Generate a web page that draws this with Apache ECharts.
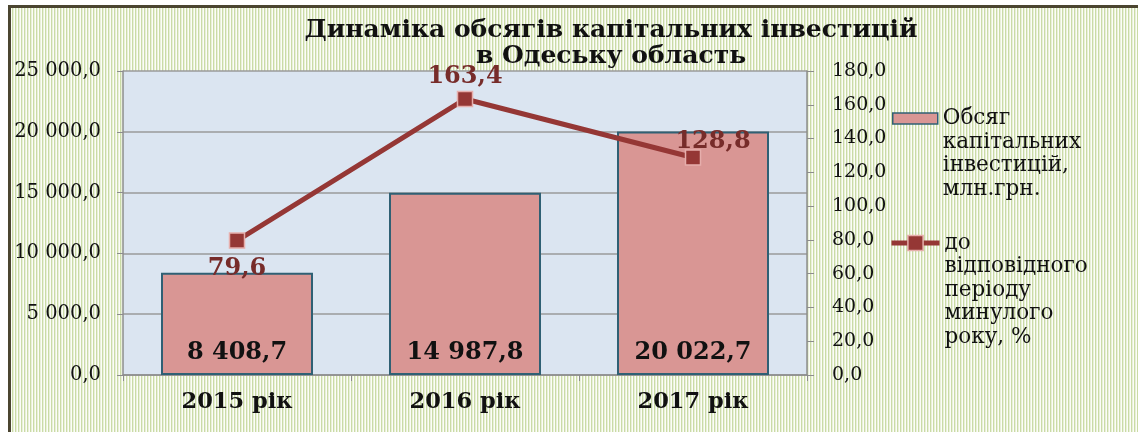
<!DOCTYPE html>
<html>
<head>
<meta charset="utf-8">
<title>Динаміка обсягів капітальних інвестицій</title>
<script src="https://cdn.jsdelivr.net/npm/echarts@6/dist/echarts.min.js"></script>
<style>
  html, body { margin: 0; padding: 0; background: #fff; }
  #chart { width: 1138px; height: 432px; }
</style>
</head>
<body>
<div id="chart"></div>
<script>
// дані
var years = ['2015 рік', '2016 рік', '2017 рік'];
var investVolume = [8408.7, 14987.8, 20022.7];   // млн.грн.
var growthPct = [79.6, 163.4, 128.8];             // % до попереднього року
var barName = 'Обсяг капітальних інвестицій, млн.грн.';
var lineName = 'до відповідного періоду минулого року, %';
var legendLines = {};
legendLines[barName] = ['Обсяг', 'капітальних', 'інвестицій,', 'млн.грн.'];
legendLines[lineName] = ['до', 'відповідного', 'періоду', 'минулого', 'року, %'];

var LH = 23.5;
var serif = 'DejaVu Serif';

// 12 345,6
function fmt(v) {
    var s = v.toFixed(1).split('.');
    return s[0].replace(/\B(?=(\d{3})+(?!\d))/g, ' ') + ',' + s[1];
}

// перший рядок підпису легенди — навпроти значка: порожні рядки зверху
function legendFmt(n) {
    var l = legendLines[n];
    return new Array(l.length).join('\n') + l.join('\n');
}

// смугастий фон
var pat = document.createElement('canvas');
pat.width = 3; pat.height = 4;
var pc = pat.getContext('2d');
pc.fillStyle = '#cadba6'; pc.fillRect(0, 0, 1, 4);
pc.fillStyle = '#e9f0da'; pc.fillRect(1, 0, 1, 4);
pc.fillStyle = '#fcfdf8'; pc.fillRect(2, 0, 1, 4);

var chart = echarts.init(document.getElementById('chart'));

var option = {
    backgroundColor: '#ffffff',
    animation: false,
    graphic: [{
        type: 'rect',
        z: -10,
        shape: { x: 9.5, y: 6.5, width: 1140, height: 440 },
        style: { fill: { image: pat, repeat: 'repeat' }, stroke: '#4b4530', lineWidth: 3 }
    }],
    title: {
        text: 'Динаміка обсягів капітальних інвестицій\nв Одеську область',
        left: 611,
        top: 17,
        padding: 0,
        textAlign: 'center',
        textStyle: { fontFamily: serif, fontWeight: 'bold', fontSize: 25, lineHeight: 26, color: '#111' }
    },
    legend: [{
        data: [{ name: barName, icon: 'rect' }],
        orient: 'vertical',
        left: 892,
        top: 118.5 - 7 * LH / 2,
        padding: 0,
        itemWidth: 45,
        itemHeight: 11,
        itemStyle: { borderWidth: 1.5 },
        formatter: legendFmt,
        textStyle: { fontFamily: serif, fontSize: 21.5, lineHeight: LH, color: '#111' }
    }, {
        data: [lineName],
        orient: 'vertical',
        left: 889,
        top: 243 - 9 * LH / 2,
        padding: 0,
        itemWidth: 48,
        itemHeight: 19,
        itemStyle: { borderWidth: 1.5 },
        lineStyle: { width: 5 },
        formatter: legendFmt,
        textStyle: { fontFamily: serif, fontSize: 21.5, lineHeight: LH, color: '#111' }
    }],
    grid: {
        left: 123, right: 331, top: 71, bottom: 57,
        show: true, backgroundColor: '#dbe5f1', borderWidth: 0
    },
    xAxis: {
        type: 'category',
        data: years,
        axisLine: { lineStyle: { color: '#8c8c8c', width: 1.5 } },
        axisTick: { show: true, length: 6, lineStyle: { color: '#8c8c8c' } },
        axisLabel: { margin: 16, fontFamily: serif, fontWeight: 'bold', fontSize: 22.5, color: '#111' }
    },
    yAxis: [{
        type: 'value',
        min: 0, max: 25000, interval: 5000,
        axisLine: { show: true, lineStyle: { color: '#8c8c8c', width: 1.5 } },
        axisTick: { show: true, length: 6, lineStyle: { color: '#8c8c8c' } },
        splitLine: { lineStyle: { color: '#9a9a9a', width: 1.5 } },
        axisLabel: { margin: 22, fontFamily: serif, fontSize: 19.5, color: '#111', formatter: fmt }
    }, {
        type: 'value',
        min: 0, max: 180, interval: 20,
        position: 'right',
        axisLine: { show: true, lineStyle: { color: '#8c8c8c', width: 1.5 } },
        axisTick: { show: true, length: 7, lineStyle: { color: '#8c8c8c' } },
        splitLine: { show: false },
        axisLabel: { margin: 25, fontFamily: serif, fontSize: 19, color: '#111', formatter: function (v) { return v.toFixed(1).replace('.', ','); } }
    }],
    series: [{
        name: barName,
        type: 'bar',
        data: investVolume,
        barWidth: 152,
        itemStyle: { color: '#d99694', borderColor: '#2f6074', borderWidth: 2 },
        label: {
            show: true, position: 'insideBottom', distance: 10,
            fontFamily: serif, fontWeight: 'bold', fontSize: 24, color: '#111',
            formatter: function (p) { return fmt(p.value); }
        }
    }, {
        name: lineName,
        type: 'line',
        yAxisIndex: 1,
        data: [
            { value: growthPct[0], label: { position: 'bottom', distance: 8 } },
            { value: growthPct[1] },
            { value: growthPct[2], label: { offset: [20, 7] } }
        ],
        symbol: 'rect',
        symbolSize: 15,
        lineStyle: { color: '#953735', width: 5 },
        itemStyle: { color: '#953735', borderColor: '#e6aeac', borderWidth: 1.5 },
        label: {
            show: true, position: 'top', distance: 2,
            fontFamily: serif, fontWeight: 'bold', fontSize: 24, color: '#772c2a',
            formatter: function (p) { return p.value.toFixed(1).replace('.', ','); }
        }
    }]
};

chart.setOption(option);
</script>
</body>
</html>
